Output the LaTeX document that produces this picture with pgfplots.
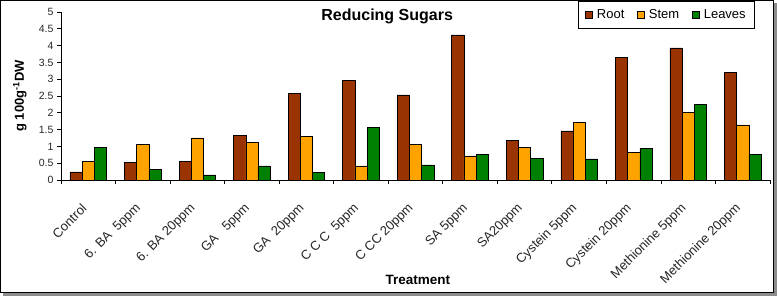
\documentclass[border=0pt]{standalone}
\usepackage{fontspec}
\setmainfont{Liberation Sans}
\usepackage{pgfplots}
\pgfplotsset{compat=1.18}
\definecolor{rootc}{RGB}{153,51,0}
\definecolor{stemc}{RGB}{255,163,0}
\definecolor{leafc}{RGB}{0,128,0}
\pgfplotsset{sqlegend/.style={legend image code/.code={\draw[##1,draw=black,line width=0.5pt] (0pt,-3.5pt) rectangle (6.5pt,3pt);}}}
\begin{document}
\begin{tikzpicture}[x=1pt,y=1pt]
\useasboundingbox (0,0) rectangle (777,296);
\fill[black!45] (3,0) rectangle (777,293);
\draw[black, fill=white, line width=0.8pt] (0.5,3.5) rectangle (773.5,295.5);
\begin{axis}[
  at={(61pt,116pt)}, anchor=south west,
  scale only axis, width=709pt, height=168pt,
  xmin=-0.5, xmax=12.5, ymin=0, ymax=5,
  axis x line*=bottom, axis y line*=left,
  axis line style={black, line width=0.8pt},
  ybar=0pt, bar width=12.2pt,
  ytick={0,0.5,1,1.5,2,2.5,3,3.5,4,4.5,5},
  yticklabel style={font=\fontsize{10.5}{12}\selectfont, /pgf/number format/assume math mode=true, color=black!85},
  tick align=outside,
  major tick length=4pt, minor tick length=4pt,
  tick style={black, line width=0.8pt},
  xtick={0,...,12},
  minor xtick={-0.5,0.5,...,12.5},
  major x tick style={draw=none},
  xticklabels={Control, 6. BA\ \ 5ppm, 6. BA 20ppm, GA\ \ \ 5ppm, GA\ \ 20ppm, C C C\ \ 5ppm, C CC 20ppm, SA 5ppm, SA20ppm, Cystein 5ppm, Cystein 20ppm, Methionine 5ppm, Methionine 20ppm},
  xticklabel style={xshift=-4pt, yshift=-22pt, rotate=45, anchor=east, inner sep=0pt, font=\fontsize{13}{15}\selectfont, color=black!85},
  xlabel={\bfseries Treatment},
  xlabel style={at={(axis description cs:0.5035,-0.595)}, anchor=center, font=\fontsize{13.5}{15}\selectfont},
  ylabel={\bfseries g 100g\textsuperscript{-1}DW},
  ylabel style={at={(axis description cs:-0.058,0.5)}, anchor=center, font=\fontsize{13}{15}\selectfont},
  title={\bfseries Reducing Sugars},
  title style={at={(axis description cs:0.46,0.94)}, anchor=center, font=\fontsize{16}{18}\selectfont},
  legend columns=3,
  legend style={at={(0.979,1.0655)}, anchor=north east, draw=black, line width=0.8pt,
    font=\fontsize{13}{15}\selectfont, inner xsep=7pt, inner ysep=6pt,
    /tikz/every odd column/.append style={column sep=2.5pt},
    /tikz/every even column/.append style={column sep=11pt}},
]
\addplot[fill=rootc, draw=black, line width=0.5pt, sqlegend] coordinates {(0,0.24)(1,0.52)(2,0.56)(3,1.33)(4,2.58)(5,2.96)(6,2.53)(7,4.32)(8,1.18)(9,1.46)(10,3.65)(11,3.93)(12,3.21)};
\addplot[fill=stemc, draw=black, line width=0.5pt, sqlegend] coordinates {(0,0.56)(1,1.05)(2,1.25)(3,1.11)(4,1.29)(5,0.42)(6,1.07)(7,0.72)(8,0.97)(9,1.71)(10,0.82)(11,2.01)(12,1.64)};
\addplot[fill=leafc, draw=black, line width=0.5pt, sqlegend] coordinates {(0,0.97)(1,0.31)(2,0.15)(3,0.42)(4,0.22)(5,1.57)(6,0.45)(7,0.76)(8,0.65)(9,0.63)(10,0.94)(11,2.26)(12,0.76)};
\legend{Root, Stem, Leaves}
\end{axis}
\end{tikzpicture}
\end{document}
